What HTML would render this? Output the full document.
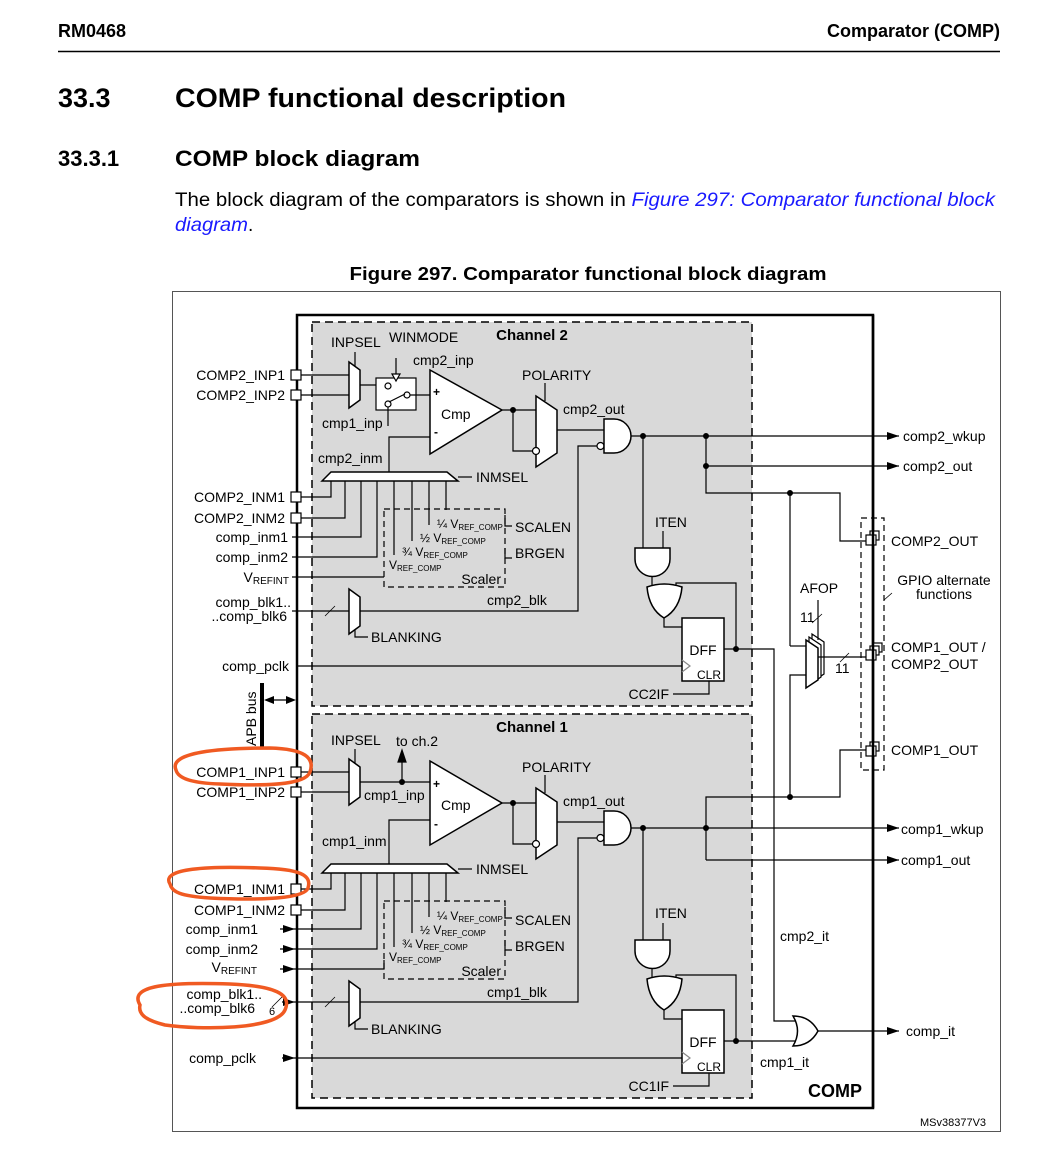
<!DOCTYPE html>
<html><head><meta charset="utf-8"><style>
html,body{margin:0;padding:0;background:#fff;}
svg{display:block;font-family:"Liberation Sans",Arial,sans-serif;}
</style></head><body>
<svg width="1041" height="1149" viewBox="0 0 1041 1149" xmlns="http://www.w3.org/2000/svg">
<defs>
<marker id="ar" markerWidth="12" markerHeight="8" refX="12" refY="4" orient="auto" markerUnits="userSpaceOnUse"><path d="M0,0 L12,4 L0,8 Z" fill="#000"/></marker>
</defs>
<!-- header -->
<text x="58" y="37" font-size="18" font-weight="bold">RM0468</text>
<text x="1000" y="37" font-size="18" font-weight="bold" text-anchor="end">Comparator (COMP)</text>
<line x1="58" y1="51.5" x2="1000" y2="51.5" stroke="#000" stroke-width="1.5"/>
<text x="58" y="107" font-size="27" font-weight="bold">33.3</text>
<text x="175" y="107" font-size="27" font-weight="bold" textLength="391" lengthAdjust="spacingAndGlyphs">COMP functional description</text>
<text x="58" y="166" font-size="22" font-weight="bold">33.3.1</text>
<text x="175" y="166" font-size="22" font-weight="bold" textLength="245" lengthAdjust="spacingAndGlyphs">COMP block diagram</text>
<text x="175" y="206" font-size="19" textLength="820" lengthAdjust="spacingAndGlyphs">The block diagram of the comparators is shown in <tspan fill="#1a1aff" font-style="italic">Figure 297: Comparator functional block</tspan></text>
<text x="175" y="231" font-size="19"><tspan fill="#1a1aff" font-style="italic" textLength="73" lengthAdjust="spacingAndGlyphs">diagram</tspan>.</text>
<text x="588" y="280" font-size="18" font-weight="bold" text-anchor="middle" textLength="477" lengthAdjust="spacingAndGlyphs">Figure 297. Comparator functional block diagram</text>

<!-- frame -->
<rect x="172.5" y="291.5" width="828" height="840" fill="none" stroke="#555" stroke-width="1"/>
<rect x="297" y="315" width="576" height="793" fill="#fff" stroke="#000" stroke-width="2.5"/>

<g font-size="14" stroke-linecap="butt">
<!-- channel backgrounds -->
<rect x="312" y="322" width="440" height="384" fill="#d9d9d9" stroke="#000" stroke-width="1.5" stroke-dasharray="8,5"/>
<rect x="312" y="714" width="440" height="384" fill="#d9d9d9" stroke="#000" stroke-width="1.5" stroke-dasharray="8,5"/>

<!-- ================= CHANNEL 2 ================= -->
<g>
<text x="532" y="340" font-weight="bold" font-size="15" text-anchor="middle">Channel 2</text>
<g fill="none" stroke="#000" stroke-width="1.2">
<!-- input pins -->
<rect x="291" y="370" width="10" height="10" fill="#fff"/>
<rect x="291" y="390" width="10" height="10" fill="#fff"/>
<rect x="291" y="492" width="10" height="10" fill="#fff"/>
<rect x="291" y="513" width="10" height="10" fill="#fff"/>
<line x1="301" y1="375" x2="349" y2="375"/><line x1="301" y1="395" x2="349" y2="395"/>
<polygon points="349,362 360,370 360,400 349,408" fill="#fff" stroke-width="1.5"/>
<line x1="355" y1="352" x2="355" y2="366"/>
<!-- switch -->
<line x1="360" y1="385" x2="385" y2="385"/>
<rect x="376" y="378" width="40" height="32" fill="#fff"/>
<circle cx="388" cy="386" r="3" fill="#fff"/><circle cx="388" cy="404" r="3" fill="#fff"/><circle cx="407" cy="395" r="3" fill="#fff"/>
<line x1="389" y1="402" x2="405" y2="394"/>
<line x1="410" y1="395" x2="430" y2="395"/>
<line x1="388" y1="407" x2="388" y2="426"/>
<line x1="396" y1="358" x2="396" y2="374"/>
<polygon points="392,374 400,374 396,381" fill="#fff"/>
<!-- cmp -->
<polygon points="430,370 502,410 430,454" fill="#fff" stroke-width="1.5"/>
<polyline points="430,437 389,437 389,472"/>
<polygon points="322,481 331,472 447,472 458,481" fill="#fff" stroke-width="1.5"/>
<line x1="458" y1="477" x2="472" y2="477"/>
<polyline points="331,481 331,497 301,497"/>
<polyline points="345,481 345,518 301,518"/>
<polyline points="361,481 361,537 292,537"/>
<polyline points="377,481 377,557 292,557"/>
<line x1="394" y1="481" x2="394" y2="555"/>
<line x1="412" y1="481" x2="412" y2="541"/>
<line x1="429" y1="481" x2="429" y2="525"/>
<line x1="446" y1="481" x2="446" y2="510"/>
<rect x="384" y="509" width="121" height="78" stroke-dasharray="6,4"/>
<polyline points="292,577 384,577"/>
<polyline points="505,515 505,526 512,526"/>
<polyline points="505,548 505,558 512,558"/>
<!-- blanking -->
<line x1="292" y1="611" x2="349" y2="611"/>
<line x1="325" y1="616" x2="335" y2="606" stroke-width="0.8"/>
<polygon points="349,589 360,597 360,626 349,634" fill="#fff" stroke-width="1.5"/>
<polyline points="355,630 355,637 368,637"/>
<polyline points="360,611 578,611 578,446 597,446"/>
<!-- polarity -->
<line x1="502" y1="410" x2="536" y2="410"/>
<polyline points="513,410 513,451 533,451"/>
<polygon points="536,396 557,410 557,453 536,467" fill="#fff" stroke-width="1.5"/>
<line x1="545" y1="383" x2="545" y2="401"/>
<circle cx="536" cy="451" r="3.5" fill="#fff"/>
<line x1="557" y1="430" x2="604" y2="430"/>
<circle cx="600.5" cy="446" r="3.5" fill="#fff"/>
<path d="M604,419 H614 A17,17 0 0 1 614,453 H604 Z" fill="#fff" stroke-width="1.5"/>
<!-- ITEN / OR / DFF -->
<line x1="643" y1="436" x2="643" y2="548"/>
<line x1="663" y1="531" x2="663" y2="548"/>
<path d="M635,548 H670 V559 A17.5,17.5 0 0 1 635,559 Z" fill="#fff" stroke-width="1.5"/>
<line x1="652" y1="576" x2="652" y2="589"/>
<polyline points="676,589 676,583 736,583 736,649"/>
<path d="M647,587 Q664,581 682,587 Q680,609 664,618 Q649,609 647,587 Z" fill="#fff" stroke-width="1.5"/>
<polyline points="664,618 664,627 682,627"/>
<rect x="682" y="618" width="42" height="63" fill="#fff" stroke-width="1.5"/>
<polyline points="682,660 690,666 682,672" stroke="#888"/>
<line x1="297" y1="666" x2="682" y2="666"/>
<polyline points="673,694 709,694 709,681"/>
<polyline points="724,649 774,649 774,1021 795,1021"/>
</g>
<text x="331" y="347">INPSEL</text>
<text x="389" y="342">WINMODE</text>
<text x="413" y="365">cmp2_inp</text>
<text x="322" y="428">cmp1_inp</text>
<text x="433" y="396" font-size="12" font-weight="bold">+</text>
<text x="434" y="436" font-size="12" font-weight="bold">-</text>
<text x="441" y="419">Cmp</text>
<text x="318" y="463">cmp2_inm</text>
<text x="476" y="482">INMSEL</text>
<text x="437" y="528" font-size="12">¼ V<tspan font-size="8" dy="2">REF_COMP</tspan></text>
<text x="420" y="542" font-size="12">½ V<tspan font-size="8" dy="2">REF_COMP</tspan></text>
<text x="402" y="556" font-size="12">¾ V<tspan font-size="8" dy="2">REF_COMP</tspan></text>
<text x="389" y="569" font-size="12">V<tspan font-size="8" dy="2">REF_COMP</tspan></text>
<text x="501" y="584" text-anchor="end">Scaler</text>
<text x="515" y="532">SCALEN</text>
<text x="515" y="558">BRGEN</text>
<text x="487" y="605">cmp2_blk</text>
<text x="371" y="642">BLANKING</text>
<text x="522" y="380">POLARITY</text>
<text x="563" y="414">cmp2_out</text>
<text x="655" y="527">ITEN</text>
<text x="703" y="655" text-anchor="middle">DFF</text>
<text x="697" y="679" font-size="12">CLR</text>
<text x="669" y="699" text-anchor="end">CC2IF</text>
</g>

<!-- ================= CHANNEL 1 ================= -->
<g>
<text x="532" y="732" font-weight="bold" font-size="15" text-anchor="middle">Channel 1</text>
<g fill="none" stroke="#000" stroke-width="1.2">
<rect x="291" y="767" width="10" height="10" fill="#fff"/>
<rect x="291" y="787" width="10" height="10" fill="#fff"/>
<rect x="291" y="884" width="10" height="10" fill="#fff"/>
<rect x="291" y="905" width="10" height="10" fill="#fff"/>
<line x1="301" y1="772" x2="349" y2="772"/><line x1="301" y1="792" x2="349" y2="792"/>
<polygon points="349,759 360,767 360,797 349,805" fill="#fff" stroke-width="1.5"/>
<line x1="355" y1="749" x2="355" y2="763"/>
<line x1="360" y1="782" x2="430" y2="782"/>
<line x1="402" y1="782" x2="402" y2="760"/>
<polygon points="398,762 406,762 402,750" fill="#000"/>
<polygon points="430,761 502,803 430,845" fill="#fff" stroke-width="1.5"/>
<polyline points="430,820 389,820 389,864"/>
<polygon points="322,873 331,864 447,864 458,873" fill="#fff" stroke-width="1.5"/>
<line x1="458" y1="869" x2="472" y2="869"/>
<polyline points="331,873 331,889 301,889"/>
<polyline points="345,873 345,910 301,910"/>
<polyline points="361,873 361,929 280,929"/>
<polyline points="377,873 377,949 280,949"/>
<line x1="394" y1="873" x2="394" y2="947"/>
<line x1="412" y1="873" x2="412" y2="933"/>
<line x1="429" y1="873" x2="429" y2="917"/>
<line x1="446" y1="873" x2="446" y2="902"/>
<rect x="384" y="901" width="121" height="78" stroke-dasharray="6,4"/>
<polyline points="280,969 384,969 384,960"/>
<polyline points="505,907 505,918 512,918"/>
<polyline points="505,940 505,950 512,950"/>
<line x1="282" y1="1002" x2="349" y2="1002"/>
<line x1="325" y1="1007" x2="335" y2="997" stroke-width="0.8"/>
<line x1="272" y1="1007" x2="282" y2="997" stroke-width="0.8"/>
<polygon points="349,981 360,989 360,1018 349,1026" fill="#fff" stroke-width="1.5"/>
<polyline points="355,1022 355,1029 368,1029"/>
<polyline points="360,1002 578,1002 578,838 597,838"/>
<line x1="502" y1="803" x2="536" y2="803"/>
<polyline points="513,803 513,844 533,844"/>
<polygon points="536,788 557,802 557,845 536,859" fill="#fff" stroke-width="1.5"/>
<line x1="545" y1="775" x2="545" y2="793"/>
<circle cx="536" cy="844" r="3.5" fill="#fff"/>
<line x1="557" y1="822" x2="604" y2="822"/>
<circle cx="600.5" cy="838" r="3.5" fill="#fff"/>
<path d="M604,811 H614 A17,17 0 0 1 614,845 H604 Z" fill="#fff" stroke-width="1.5"/>
<line x1="643" y1="828" x2="643" y2="940"/>
<line x1="663" y1="923" x2="663" y2="940"/>
<path d="M635,940 H670 V951 A17.5,17.5 0 0 1 635,951 Z" fill="#fff" stroke-width="1.5"/>
<line x1="652" y1="968" x2="652" y2="981"/>
<polyline points="676,981 676,975 736,975 736,1041"/>
<path d="M647,979 Q664,973 682,979 Q680,1001 664,1010 Q649,1001 647,979 Z" fill="#fff" stroke-width="1.5"/>
<polyline points="664,1010 664,1019 682,1019"/>
<rect x="682" y="1010" width="42" height="63" fill="#fff" stroke-width="1.5"/>
<polyline points="682,1052 690,1058 682,1064" stroke="#888"/>
<line x1="282" y1="1058" x2="682" y2="1058"/>
<polyline points="673,1086 709,1086 709,1073"/>
<line x1="724" y1="1041" x2="797" y2="1041"/>
</g>
<text x="331" y="745">INPSEL</text>
<text x="396" y="746">to ch.2</text>
<text x="364" y="800">cmp1_inp</text>
<text x="433" y="788" font-size="12" font-weight="bold">+</text>
<text x="434" y="828" font-size="12" font-weight="bold">-</text>
<text x="441" y="810">Cmp</text>
<text x="322" y="846">cmp1_inm</text>
<text x="476" y="874">INMSEL</text>
<text x="437" y="920" font-size="12">¼ V<tspan font-size="8" dy="2">REF_COMP</tspan></text>
<text x="420" y="934" font-size="12">½ V<tspan font-size="8" dy="2">REF_COMP</tspan></text>
<text x="402" y="948" font-size="12">¾ V<tspan font-size="8" dy="2">REF_COMP</tspan></text>
<text x="389" y="961" font-size="12">V<tspan font-size="8" dy="2">REF_COMP</tspan></text>
<text x="501" y="976" text-anchor="end">Scaler</text>
<text x="515" y="925">SCALEN</text>
<text x="515" y="951">BRGEN</text>
<text x="487" y="997">cmp1_blk</text>
<text x="371" y="1034">BLANKING</text>
<text x="522" y="772">POLARITY</text>
<text x="563" y="806">cmp1_out</text>
<text x="655" y="918">ITEN</text>
<text x="703" y="1047" text-anchor="middle">DFF</text>
<text x="697" y="1071" font-size="12">CLR</text>
<text x="669" y="1091" text-anchor="end">CC1IF</text>
</g>

<!-- left labels -->
<g text-anchor="end">
<text x="285" y="380">COMP2_INP1</text>
<text x="285" y="400">COMP2_INP2</text>
<text x="285" y="502">COMP2_INM1</text>
<text x="285" y="523">COMP2_INM2</text>
<text x="288" y="542">comp_inm1</text>
<text x="288" y="562">comp_inm2</text>
<text x="289" y="582">V<tspan font-size="10" dy="2">REFINT</tspan></text>
<text x="291" y="607">comp_blk1..</text>
<text x="287" y="621">..comp_blk6</text>
<text x="289" y="671">comp_pclk</text>
<text x="285" y="777">COMP1_INP1</text>
<text x="285" y="797">COMP1_INP2</text>
<text x="285" y="894">COMP1_INM1</text>
<text x="285" y="915">COMP1_INM2</text>
<text x="258" y="934">comp_inm1</text>
<text x="258" y="954">comp_inm2</text>
<text x="257" y="972">V<tspan font-size="10" dy="2">REFINT</tspan></text>
<text x="262" y="999">comp_blk1..</text>
<text x="255" y="1013">..comp_blk6</text>
<text x="256" y="1063">comp_pclk</text>
</g>
<text x="269" y="1015" font-size="11">6</text>
<!-- ch1 input arrows -->
<g fill="#000">
<polygon points="283,925 295,929 283,933"/>
<polygon points="283,945 295,949 283,953"/>
<polygon points="283,965 295,969 283,973"/>
<polygon points="283,998 295,1002 283,1006"/>
<polygon points="283,1054 295,1058 283,1062"/>
</g>

<!-- APB bus -->
<line x1="262" y1="683" x2="262" y2="747" stroke="#000" stroke-width="4"/>
<line x1="266" y1="700" x2="293" y2="700" stroke="#000" stroke-width="1.2"/>
<polygon points="264,700 274,696 274,704" fill="#000"/>
<polygon points="296,700 286,696 286,704" fill="#000"/>
<text x="0" y="0" font-size="14" transform="translate(256,746) rotate(-90)">APB bus</text>

<!-- right-side routing -->
<g fill="none" stroke="#000" stroke-width="1.2">
<line x1="631" y1="436" x2="899" y2="436" marker-end="url(#ar)"/>
<line x1="706" y1="466" x2="899" y2="466" marker-end="url(#ar)"/>
<polyline points="706,436 706,493 840,493 840,541 868,541"/>
<line x1="790" y1="493" x2="790" y2="646"/>
<line x1="790" y1="646" x2="806" y2="646"/>
<polyline points="806,675 790,675 790,797"/>
<line x1="631" y1="828" x2="899" y2="828" marker-end="url(#ar)"/>
<line x1="706" y1="860" x2="899" y2="860" marker-end="url(#ar)"/>
<polyline points="706,828 706,797 840,797 840,750 868,750"/>
<line x1="706" y1="828" x2="706" y2="860"/>
<line x1="818" y1="1031" x2="899" y2="1031" marker-end="url(#ar)"/>
<!-- AFOP mux -->
<polygon points="812,634 824,642 824,674 812,682" fill="#fff"/>
<polygon points="809,637 821,645 821,677 809,685" fill="#fff"/>
<polygon points="806,640 818,648 818,680 806,688" fill="#fff" stroke-width="1.5"/>
<line x1="818" y1="600" x2="818" y2="640"/>
<line x1="812" y1="623" x2="822" y2="614" stroke-width="0.8"/>
<line x1="818" y1="657" x2="868" y2="657"/>
<line x1="840" y1="662" x2="849" y2="653" stroke-width="0.8"/>
<!-- GPIO box -->
<rect x="861" y="518" width="23" height="252" stroke-dasharray="6,4"/>
<line x1="884" y1="600" x2="892" y2="593" stroke-width="0.8"/>
<rect x="870" y="531" width="9" height="9" fill="#fff"/>
<rect x="866" y="535" width="10" height="10" fill="#fff"/>
<rect x="873" y="643" width="9" height="9" fill="#fff"/>
<rect x="870" y="646" width="9" height="9" fill="#fff"/>
<rect x="866" y="650" width="10" height="10" fill="#fff"/>
<rect x="870" y="742" width="9" height="9" fill="#fff"/>
<rect x="866" y="746" width="10" height="10" fill="#fff"/>
<!-- OR gate final -->
<path d="M793,1016 Q810,1016 818,1031 Q810,1046 793,1046 Q802,1031 793,1016 Z" fill="#fff" stroke-width="1.5"/>
</g>
<line x1="873" y1="315" x2="873" y2="1108" stroke="#000" stroke-width="2.5"/>
<!-- dots -->
<g fill="#000">
<circle cx="513" cy="410" r="3"/><circle cx="643" cy="436" r="3"/><circle cx="706" cy="436" r="3"/><circle cx="706" cy="466" r="3"/><circle cx="790" cy="493" r="3"/><circle cx="736" cy="649" r="3"/>
<circle cx="402" cy="782" r="3"/><circle cx="513" cy="803" r="3"/><circle cx="643" cy="828" r="3"/><circle cx="706" cy="828" r="3"/><circle cx="790" cy="797" r="3"/><circle cx="736" cy="1041" r="3"/>
</g>
<text x="903" y="441">comp2_wkup</text>
<text x="903" y="471">comp2_out</text>
<text x="891" y="546">COMP2_OUT</text>
<text x="944" y="585" text-anchor="middle">GPIO alternate</text>
<text x="944" y="599" text-anchor="middle">functions</text>
<text x="800" y="593">AFOP</text>
<text x="800" y="622">11</text>
<text x="835" y="673">11</text>
<text x="891" y="652">COMP1_OUT /</text>
<text x="891" y="669">COMP2_OUT</text>
<text x="891" y="755">COMP1_OUT</text>
<text x="901" y="834">comp1_wkup</text>
<text x="901" y="865">comp1_out</text>
<text x="780" y="941">cmp2_it</text>
<text x="760" y="1067">cmp1_it</text>
<text x="906" y="1036">comp_it</text>
<text x="808" y="1097" font-size="18" font-weight="bold">COMP</text>
<text x="920" y="1126" font-size="11">MSv38377V3</text>
</g>

<!-- orange annotations -->
<g fill="none" stroke="#f05a22" stroke-width="3.5">
<path d="M176,770 C168,752 220,748 270,748 C305,749 315,758 310,772 C305,786 260,786 220,784 C190,783 178,778 176,770 Z"/>
<path d="M170,884 C160,868 210,866 260,868 C300,869 312,875 308,888 C304,900 250,900 210,898 C180,896 172,892 170,884 Z"/>
<path d="M140,1005 C128,985 170,982 230,984 C275,986 292,994 285,1010 C276,1030 200,1030 165,1025 C145,1020 138,1014 140,1005 Z"/>
</g>
</svg>
</body></html>
